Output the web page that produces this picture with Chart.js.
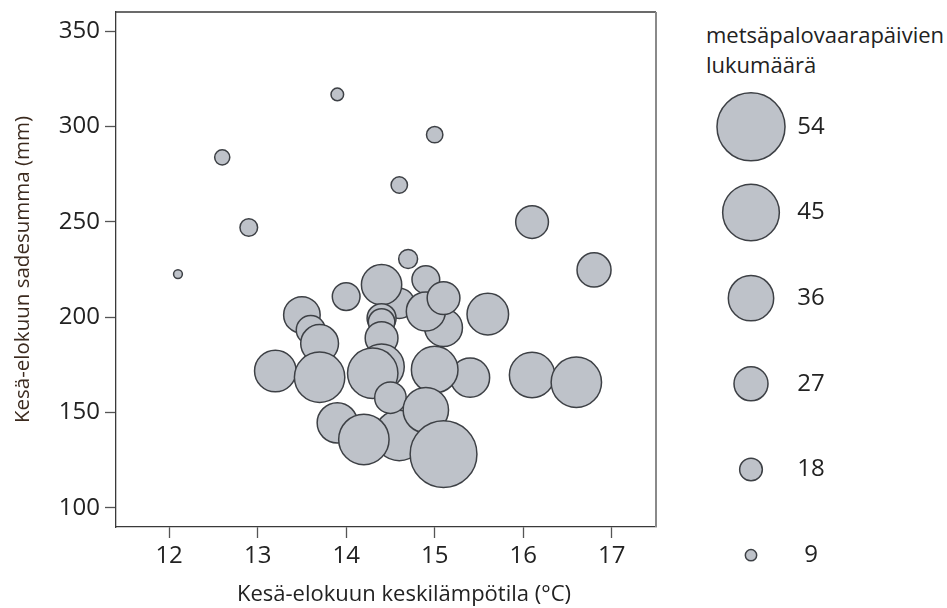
<!DOCTYPE html>
<html>
<head>
<meta charset="utf-8">
<script src="https://cdn.jsdelivr.net/npm/chart.js@4.4.1/dist/chart.umd.min.js"></script>
<style>
  html, body { margin: 0; padding: 0; background: #fff; }
  #wrap { position: relative; width: 947px; height: 608px; overflow: hidden; }
  #mainChart { position: absolute; left: 0; top: 0; }
  #legendChart { position: absolute; left: 671px; top: 84px; }
  #legendTitle {
    position: absolute; left: 706px; top: 19px;
    font-family: "Open Sans", sans-serif; font-size: 22px; line-height: 30px; color: #222;
  }
</style>
</head>
<body>
<div id="wrap">
  <canvas id="mainChart" width="690" height="608"></canvas>
  <div id="legendTitle">metsäpalovaarapäivien<br>lukumäärä</div>
  <canvas id="legendChart" width="160" height="514"></canvas>
</div>
<script>
/* kesa-elokuun keskilampotila (x), sadesumma (y), metsapalovaarapaivien lukumaara (koko) */
var temps = [14.6, 14.9, 15.1, 14.9, 15.1, 14.4, 14.0, 13.5, 13.6, 13.7,
             14.4, 14.4, 14.4, 14.4, 14.3, 13.2, 13.7, 15.4, 15.0, 14.6,
             13.9, 14.2, 14.5, 14.9, 15.1, 15.6, 16.1, 16.6, 16.1, 16.8,
             14.7, 12.1, 12.6, 12.9, 13.9, 14.6, 15.0];
var rain  = [207.3, 219.7, 194.5, 203.0, 210.0, 217.0, 210.8, 201.2, 193.3, 186.2,
             199.5, 197.5, 189.0, 174.0, 170.6, 171.8, 168.5, 168.3, 172.5, 138.0,
             144.6, 135.9, 157.8, 151.3, 128.2, 201.6, 169.7, 165.9, 249.9, 224.8,
             230.5, 222.6, 283.8, 247.0, 316.8, 269.3, 295.7];
var days  = [24, 22, 30, 31, 26, 32, 22, 29, 23, 30,
             23, 21, 26, 36, 40, 33, 40, 31, 37, 40,
             32, 40, 25, 36, 53, 33, 36, 40, 26, 27,
             15, 7, 12, 14, 10, 13, 13];

var xTicks = [12, 13, 14, 15, 16, 17];
var yTicks = [100, 150, 200, 250, 300, 350];
var legendDays = [54, 45, 36, 27, 18, 9];
var xTitle = 'Kesä-elokuun keskilämpötila (°C)';
var yTitle = 'Kesä-elokuun sadesumma (mm)';

var R_PER_DAY = 0.63;
var FILL = '#bec2c9';
var EDGE = '#3d4045';
var FONT = '"Open Sans", sans-serif';

var points = [];
for (var i = 0; i < temps.length; i++) {
    points.push({x: temps[i], y: rain[i], r: days[i] * R_PER_DAY});
}

// top + right frame lines of the plot, x title (sits a bit right of centre in the original)
var frame = {
    id: 'frame',
    afterDraw: function (chart) {
        var a = chart.chartArea, ctx = chart.ctx;
        ctx.save();
        ctx.lineWidth = 1.3;
        ctx.strokeStyle = '#3a3a3a';
        ctx.beginPath();
        ctx.moveTo(a.left, a.top);
        ctx.lineTo(a.right, a.top);
        ctx.stroke();
        ctx.strokeStyle = '#8a8a8a';
        ctx.lineWidth = 2;
        ctx.beginPath();
        ctx.moveTo(a.right, a.top);
        ctx.lineTo(a.right, a.bottom);
        ctx.stroke();

        ctx.fillStyle = '#222';
        ctx.font = '22px ' + FONT;
        ctx.textAlign = 'center';
        ctx.textBaseline = 'middle';
        ctx.fillText(xTitle, (a.left + a.right) / 2 + 18, chart.height - 13);
        ctx.restore();
    }
};

new Chart(document.getElementById('mainChart'), {
    type: 'bubble',
    data: {
        datasets: [{
            data: points,
            backgroundColor: FILL,
            borderColor: EDGE,
            borderWidth: 1.5
        }]
    },
    options: {
        responsive: false,
        animation: false,
        events: [],
        layout: { autoPadding: false, padding: { top: 12, right: 34, left: 0, bottom: 0 } },
        plugins: { legend: { display: false }, tooltip: { enabled: false } },
        scales: {
            x: {
                type: 'linear', min: 11.4, max: 17.5,
                afterBuildTicks: function (s) { s.ticks = xTicks.map(function (v) { return {value: v}; }); },
                afterFit: function (s) { s.height = 81; s.paddingLeft = 0; s.paddingRight = 0; },
                grid: { drawOnChartArea: false, tickLength: 11, tickColor: '#555', tickWidth: 1.3 },
                border: { color: '#3a3a3a', width: 1.3 },
                ticks: { color: '#222', padding: 4, maxRotation: 0, font: { family: FONT, size: 24 } }
            },
            y: {
                type: 'linear', min: 90, max: 360,
                afterBuildTicks: function (s) { s.ticks = yTicks.map(function (v) { return {value: v}; }); },
                afterFit: function (s) { s.width = 116; s.paddingTop = 0; s.paddingBottom = 0; },
                grid: { drawOnChartArea: false, tickLength: 11, tickColor: '#555', tickWidth: 1.3 },
                border: { color: '#3a3a3a', width: 1.3 },
                ticks: { color: '#222', padding: 5, font: { family: FONT, size: 24 } },
                title: {
                    display: true, text: yTitle, color: '#3b2a1e',
                    font: { family: FONT, size: 20.5 }, padding: { top: 11, bottom: 0 }
                }
            }
        }
    },
    plugins: [frame]
});

// legend: one bubble per size class, numbers beside
var legendLabels = {
    id: 'legendLabels',
    afterDatasetsDraw: function (chart) {
        var ctx = chart.ctx;
        var meta = chart.getDatasetMeta(0);
        ctx.save();
        ctx.fillStyle = '#222';
        ctx.font = '24px ' + FONT;
        ctx.textAlign = 'center';
        ctx.textBaseline = 'middle';
        meta.data.forEach(function (el, i) {
            ctx.fillText(String(legendDays[i]), el.x + 60, el.y);
        });
        ctx.restore();
    }
};

new Chart(document.getElementById('legendChart'), {
    type: 'bubble',
    data: {
        datasets: [{
            data: legendDays.map(function (d, i) { return {x: 0, y: i, r: d * R_PER_DAY}; }),
            backgroundColor: FILL,
            borderColor: EDGE,
            borderWidth: 1.5,
            clip: false
        }]
    },
    options: {
        responsive: false,
        animation: false,
        events: [],
        layout: { autoPadding: false, padding: 0 },
        plugins: { legend: { display: false }, tooltip: { enabled: false } },
        scales: {
            x: { type: 'linear', min: -1, max: 1, display: false },
            y: { type: 'linear', min: -0.5, max: 5.5, reverse: true, display: false }
        }
    },
    plugins: [legendLabels]
});
</script>
</body>
</html>
